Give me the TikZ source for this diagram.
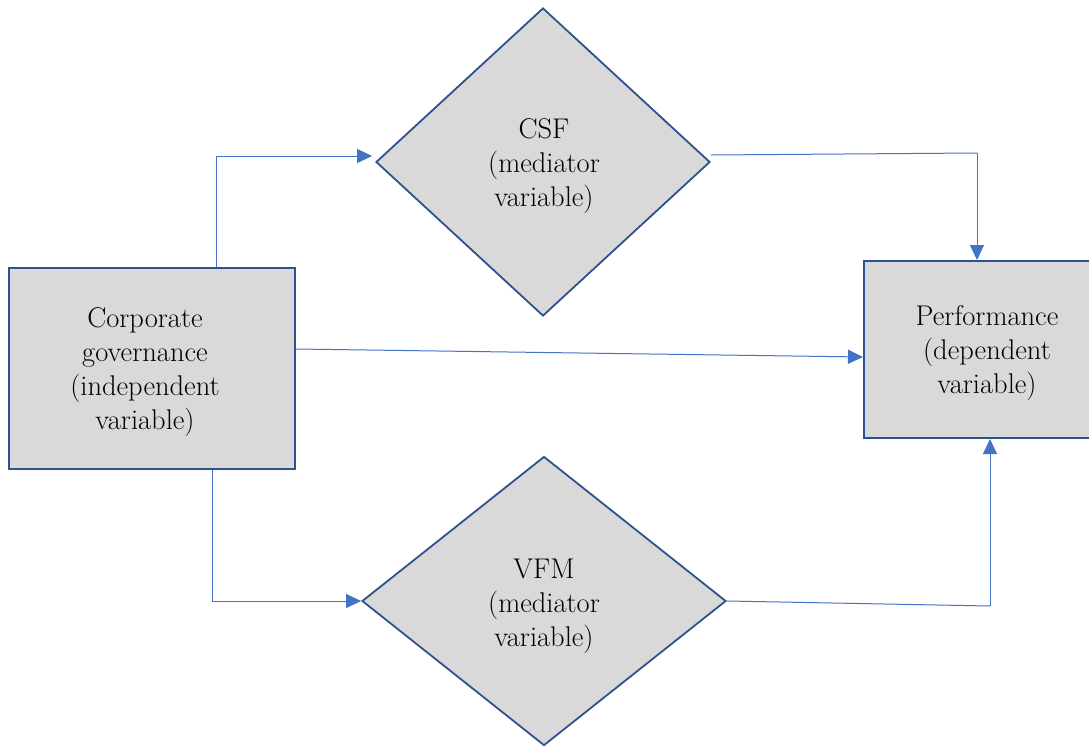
\documentclass[tikz,border=0pt]{standalone}
\usetikzlibrary{shapes.geometric,arrows.meta}
\definecolor{bordblue}{HTML}{2F528F}
\definecolor{boxfill}{HTML}{D9D9D9}
\definecolor{linkblue}{HTML}{4472C4}
\tikzset{
  lbltext/.style={align=center, font=\fontsize{28.5}{34}\selectfont, inner sep=0pt, text=black},
  varbox/.style={draw=bordblue, line width=2pt, fill=boxfill, rectangle, inner sep=0pt},
  medbox/.style={draw=bordblue, line width=1.8pt, fill=boxfill, diamond, inner sep=0pt},
  conn/.style={draw=linkblue, line width=1pt},
  connarrow/.style={conn, -{Triangle[length=15pt,width=14pt]}}
}
\begin{document}
\begin{tikzpicture}[x=1pt,y=-1pt]
\clip (0,0) rectangle (1089,747);
\fill[white] (0,0) rectangle (1089,747);
% nodes
\node[varbox, minimum width=286pt, minimum height=201pt,
  label={[lbltext, xshift=-7pt, yshift=-4pt]center:Corporate\\governance\\(independent\\variable)}] (cg) at (152,368.5) {};
\node[varbox, minimum width=246pt, minimum height=177pt,
  label={[lbltext, yshift=-4pt]center:Performance\\(dependent\\variable)}] (perf) at (987,349.5) {};
\node[medbox, minimum width=334pt, minimum height=308pt,
  label={[lbltext, xshift=1pt, yshift=-4pt]center:CSF\\(mediator\\variable)}] (csf) at (543,162) {};
\node[medbox, minimum width=364pt, minimum height=289pt,
  label={[lbltext, yshift=-5pt]center:VFM\\(mediator\\variable)}] (vfm) at (544,601) {};
% helper coordinates
\coordinate (c1) at (977,153);
\coordinate (c2) at (990,606);
% connectors
\draw[connarrow] ([xshift=64pt]cg.north) |- ([shift={(-3pt,6pt)}]csf.west);
\draw[conn] ([yshift=7pt]csf.east) -- (c1);
\draw[connarrow] (c1) -- (perf.north -| c1);
\draw[connarrow] ([yshift=19.5pt]cg.east) -- ([yshift=-7.5pt]perf.west);
\draw[connarrow] ([xshift=60pt]cg.south) |- (vfm.west);
\draw[conn] (vfm.east) -- (c2);
\draw[connarrow] (c2) -- (perf.south -| c2);
\end{tikzpicture}
\end{document}
